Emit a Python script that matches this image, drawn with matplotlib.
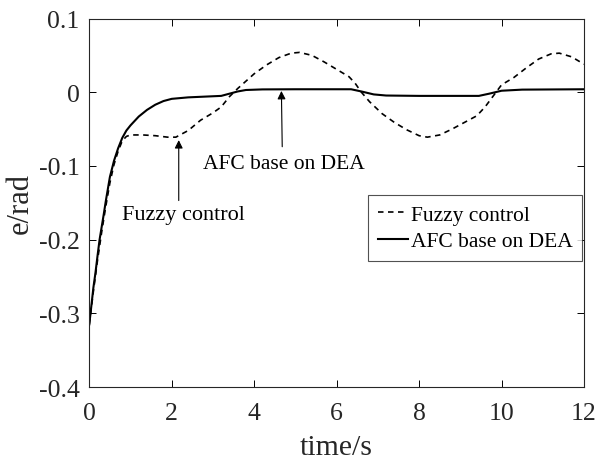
import matplotlib
matplotlib.use("Agg")
import matplotlib.pyplot as plt

plt.rcParams['font.family'] = ['Liberation Serif', 'DejaVu Serif']
plt.rcParams['axes.unicode_minus'] = False

# AFC base on DEA (solid)
t_afc = [0, 0.05, 0.1, 0.15, 0.2, 0.25, 0.3, 0.35, 0.4, 0.5, 0.6, 0.7, 0.8, 0.9, 1.0,
         1.2, 1.4, 1.6, 1.8, 2.0, 2.4, 2.8, 3.2, 3.4, 3.6, 3.8, 4.2, 5.0, 6.0, 6.35,
         6.6, 6.9, 7.2, 8.0, 9.0, 9.45, 9.7, 10.0, 10.5, 12.0]
e_afc = [-0.315, -0.29, -0.265, -0.245, -0.222, -0.2, -0.183, -0.166, -0.148, -0.115,
         -0.093, -0.076, -0.062, -0.052, -0.045, -0.033, -0.024, -0.017, -0.012, -0.009,
         -0.007, -0.006, -0.005, -0.002, 0.001, 0.003, 0.0038, 0.004, 0.004, 0.004,
         0.001, -0.003, -0.0045, -0.005, -0.005, -0.005, -0.002, 0.002, 0.0035, 0.004]

# Fuzzy control (dashed)
t_fz = [0, 0.1, 0.2, 0.3, 0.4, 0.5, 0.6, 0.7, 0.8, 0.9, 1.0, 1.3, 1.6, 1.9, 2.1, 2.4,
        2.7, 3.0, 3.2, 3.4, 3.6, 3.8, 4.0, 4.3, 4.6, 4.9, 5.1, 5.4, 5.7, 6.0, 6.3, 6.45,
        6.6, 6.8, 7.1, 7.4, 7.7, 8.0, 8.2, 8.5, 8.8, 9.1, 9.4, 9.6, 9.8, 10.0, 10.3,
        10.6, 10.9, 11.2, 11.4, 11.7, 12.0]
e_fz = [-0.315, -0.27, -0.228, -0.19, -0.155, -0.123, -0.098, -0.08, -0.066, -0.06,
        -0.058, -0.058, -0.059, -0.061, -0.061, -0.052, -0.038, -0.028, -0.02, -0.006,
        0.005, 0.015, 0.025, 0.037, 0.047, 0.053, 0.054, 0.05, 0.041, 0.031, 0.021,
        0.012, 0.0, -0.013, -0.029, -0.041, -0.051, -0.059, -0.061, -0.058, -0.05,
        -0.041, -0.032, -0.02, -0.005, 0.01, 0.02, 0.033, 0.045, 0.052, 0.053, 0.048,
        0.038]

xticks = [0, 2, 4, 6, 8, 10, 12]
yticks = [-0.4, -0.3, -0.2, -0.1, 0, 0.1]
yticklabels = ['-0.4', '-0.3', '-0.2', '-0.1', '0', '0.1']

fig = plt.figure(figsize=(5.98, 4.60), dpi=100)
ax = fig.add_axes([0.1493, 0.1565, 0.8273, 0.8011])

ax.plot(t_fz, e_fz, color='black', lw=1.2, linestyle=(0, (3.3, 2.7)), label='Fuzzy control')
ax.plot(t_afc, e_afc, color='black', lw=1.5, label='AFC base on DEA')

ax.set_xlim(0, 12)
ax.set_ylim(-0.4, 0.1)
ax.set_xticks(xticks)
ax.set_yticks(yticks)
ax.set_yticklabels(yticklabels)
ax.tick_params(direction='in', length=5, width=0.7, top=True, right=True,
               labelsize=18.5, labelcolor='#262626')
ax.tick_params(axis='x', pad=11)
ax.tick_params(axis='y', pad=7)
for s in ax.spines.values():
    s.set_linewidth(0.8)
    s.set_color('#262626')

ax.set_xlabel('time/s', fontsize=21.5, color='#262626', labelpad=7)
ax.set_ylabel('e/rad', fontsize=22, color='#262626', labelpad=3)

ax.annotate('', xy=(2.17, -0.065), xytext=(2.17, -0.147),
            arrowprops=dict(arrowstyle='-|>', color='black', lw=0.8,
                            mutation_scale=12, shrinkA=0, shrinkB=0))
ax.text(0.79, -0.172, 'Fuzzy control', fontsize=16, ha='left', va='baseline')

ax.annotate('', xy=(4.66, 0.0017), xytext=(4.68, -0.074),
            arrowprops=dict(arrowstyle='-|>', color='black', lw=0.8,
                            mutation_scale=12, shrinkA=0, shrinkB=0))
ax.text(2.77, -0.103, 'AFC base on DEA', fontsize=15.5, ha='left', va='baseline')

leg = ax.legend(loc='upper right', bbox_to_anchor=(0.996, 0.521), borderaxespad=0,
                fontsize=15.5, frameon=True, fancybox=False, handlelength=1.4,
                handletextpad=0.12, borderpad=0.45, labelspacing=0.3)
leg.get_frame().set_edgecolor('#262626')
leg.get_frame().set_linewidth(0.8)

fig.savefig('out.png', dpi=100)
